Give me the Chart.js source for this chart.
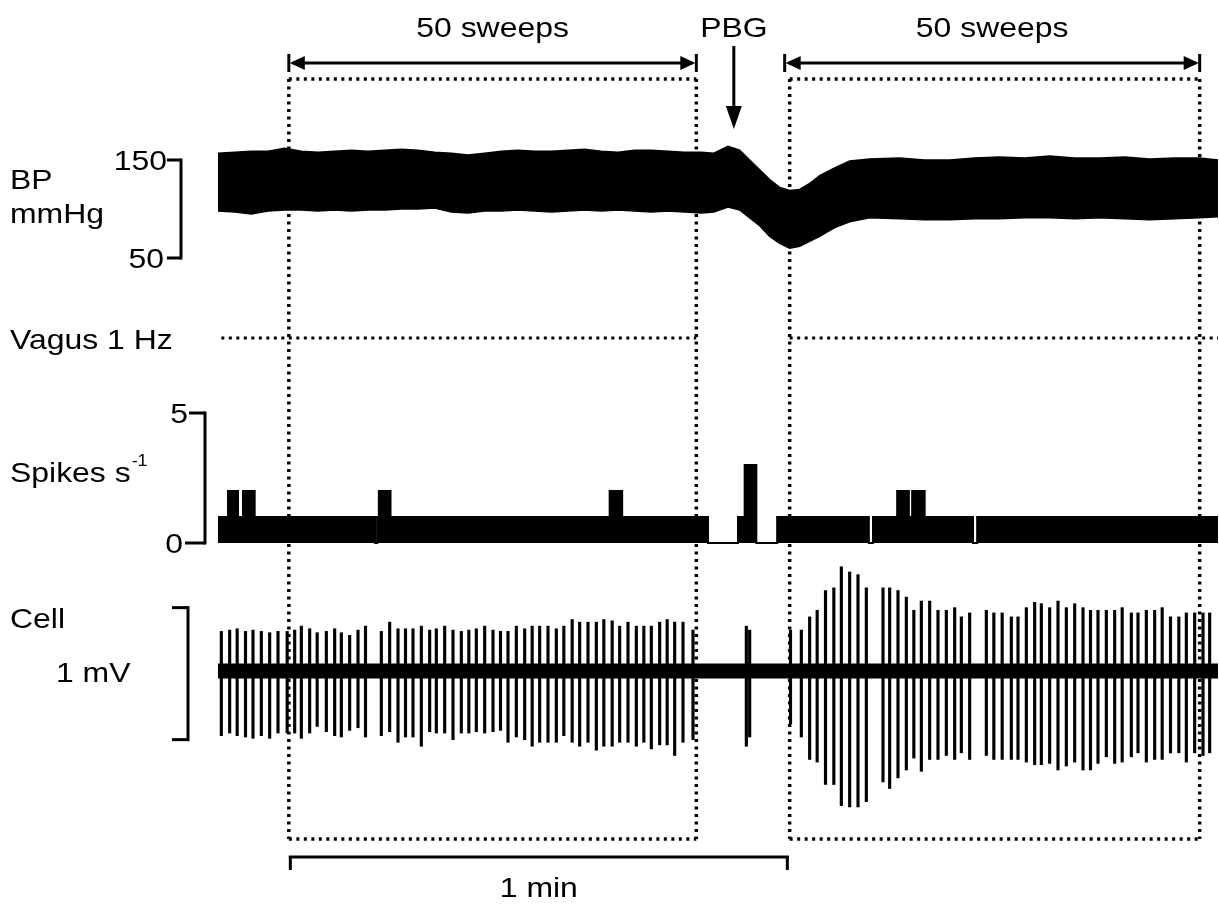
<!DOCTYPE html>
<html>
<head>
<meta charset="utf-8">
<script src="https://cdn.jsdelivr.net/npm/chart.js@4/dist/chart.umd.min.js"></script>
<style>
html, body { margin: 0; padding: 0; background: #fff; }
#wrap { width: 1219px; height: 905px; position: relative; }
</style>
</head>
<body>
<div id="wrap"><canvas id="trace"></canvas></div>
<script>
// time in seconds from left edge of the traces
var bpTime = [0, 2, 4, 6, 8, 10, 12, 14, 16, 18, 20, 22, 24, 26, 28, 30, 32, 34, 36, 38, 40, 42, 44, 46, 48, 50, 52, 54, 56, 58,
	59.5, 61.2, 62.6, 63.8, 65.0, 66.2, 67.4, 68.6, 69.8, 71.0, 72.2, 74.0, 75.8, 78.2, 81.8, 84.8, 87.8, 90.8, 93.8, 96.8,
	99.8, 102.8, 105.8, 108.8, 111.8, 114.8, 117.8, 120];
var bpSys = [157, 158, 159, 159, 162, 159, 158, 159, 160, 159, 160, 161, 160, 158, 157, 155, 157, 159, 160, 159, 159, 160, 161, 159, 158, 160, 160, 159, 158, 158,
	157, 164, 160, 150, 140, 130, 122, 119, 120, 126, 134, 142, 149, 151, 152, 150, 150, 152, 153, 152,
	154, 152, 152, 153, 151, 152, 152, 150];
var bpDia = [98, 97, 95, 98, 99, 99, 98, 99, 98, 99, 99, 100, 100, 101, 97, 96, 98, 98, 99, 98, 97, 98, 99, 98, 99, 98, 97, 98, 97, 96,
	97, 102, 99, 91, 83, 72, 65, 60, 62, 67, 72, 81, 87, 91, 90, 89, 89, 90, 90, 91,
	91, 90, 91, 90, 89, 90, 91, 92];

// spike rate histogram (value holds until next time)
var rateTime = [0, 1.2, 2.4, 3.0, 4.4, 18.85, 19.1, 19.3, 20.7, 47.0, 48.5, 58.8, 62.4, 63.2, 64.6, 67.1, 78.1, 78.6, 81.5, 82.9, 83.3, 84.8, 90.6, 91.1, 120];
var rateVal = [1, 2, 1, 2, 1, 0, 1, 2, 1, 2, 1, 0, 1, 3, 0, 1, 0, 1, 2, 1, 2, 1, 0, 1, 1];

// cell recording: spike times, upward and downward deflection (mV)
var cellTime = [0.4, 1.4, 2.3, 3.3, 4.2, 5.2, 6.2, 7.2, 8.3, 9.2, 10.0, 11.0, 11.9, 13.0, 14.0, 14.8, 15.8, 16.8, 17.7,
	19.6, 20.6, 21.6, 22.5, 23.4, 24.4, 25.4, 26.2, 27.2, 28.2, 29.2, 30.1, 31.0, 32.0,
	33.0, 33.9, 34.8, 35.8, 36.8, 37.7, 38.6, 39.6, 40.6, 41.5, 42.5, 43.4, 44.4, 45.4, 46.3, 47.3, 48.2, 49.2, 50.2, 51.1, 52.0, 53.0, 53.9, 54.8, 55.8, 57.0,
	63.4, 63.8,
	68.7, 70.0, 71.0, 71.9, 72.9, 73.9, 74.8, 75.8, 76.8, 77.8, 79.8, 80.6, 81.6, 82.6, 83.5, 84.4, 85.4, 86.4, 87.4, 88.4,
	89.2, 90.2, 92.2, 93.1, 94.1, 95.2, 96.0, 97.0, 98.0, 98.8, 99.8, 100.8, 101.8, 102.8, 103.8, 104.7, 105.6, 106.6, 107.6, 108.5,
	109.6, 110.4, 111.4, 112.4, 113.3, 114.3, 115.3, 116.2, 117.2, 118.2, 119.0];
var cellUp = [.30, .31, .32, .30, .31, .30, .29, .30, .30, .31, .34, .32, .29, .30, .32, .29, .27, .31, .34,
	.30, .37, .32, .32, .32, .34, .31, .32, .34, .31, .30, .31, .32, .34,
	.31, .30, .30, .34, .32, .34, .34, .34, .32, .34, .39, .37, .37, .37, .39, .38, .34, .37, .34, .34, .34, .37, .39, .37, .37, .31,
	.34, .31,
	.31, .31, .41, .46, .61, .63, .79, .75, .73, .63, .63, .63, .61, .56, .46, .53, .53, .46, .46, .48,
	.41, .44, .46, .44, .44, .41, .41, .48, .52, .51, .48, .53, .48, .51, .48, .46, .46, .46, .46, .48,
	.44, .44, .46, .46, .48, .41, .41, .44, .44, .44, .44];
var cellDown = [.49, .47, .49, .50, .51, .49, .51, .47, .47, .47, .51, .47, .42, .46, .49, .50, .45, .43, .50,
	.49, .46, .54, .50, .50, .57, .46, .47, .47, .52, .47, .47, .46, .47,
	.46, .45, .54, .50, .52, .57, .54, .54, .54, .49, .54, .57, .54, .60, .57, .57, .54, .54, .57, .54, .59, .56, .56, .64, .54, .52,
	.57, .50,
	.40, .50, .67, .69, .86, .86, 1.02, 1.03, 1.03, .99, .84, .89, .81, .75, .66, .76, .67, .67, .64, .67,
	.62, .67, .64, .67, .67, .67, .67, .69, .71, .71, .70, .75, .72, .69, .75, .75, .70, .65, .70, .69,
	.65, .62, .69, .67, .67, .62, .62, .69, .62, .64, .62];
var cellBaseTime = [0, 120];
var cellBaseVal = [0, 0];

// protocol marks
var sweepStart = [8.5, 68.6];
var sweepEnd = [57.4, 117.8];
var sweepArrowStart = [8.5, 68.0];
var vagusStart = [0.4, 68.6];
var vagusEnd = [57.4, 120];
var pbgTime = 61.9;
var minBar = [8.5, 68.5];

var H = 905;
var FONT = 28.5;
// value at a given pixel row -> axis min/max over the full canvas height
function span(v1, p1, v2, p2) {
	var k = (p2 - p1) / (v1 - v2);
	return { min: v1 - (H - p1) / k, max: v1 + p1 / k };
}
var bpAxis = span(150, 160, 50, 258);
var spAxis = span(5, 413, 0, 543);
var cellAxis = span(0, 671, 1, 539);

function pts(xs, ys) {
	return xs.map(function (t, i) { return { x: t, y: ys[i] }; });
}

function label(ctx, s, px, py, align, size) {
	ctx.save();
	ctx.font = (size || FONT) + 'px "Liberation Sans", Arial, sans-serif';
	ctx.fillStyle = '#000';
	ctx.textAlign = align || 'left';
	ctx.textBaseline = 'alphabetic';
	ctx.translate(px, py);
	ctx.scale(1.12, 1);
	ctx.fillText(s, 0, 0);
	ctx.restore();
}

function seg(ctx, x1, y1, x2, y2) {
	ctx.beginPath();
	ctx.moveTo(x1, y1);
	ctx.lineTo(x2, y2);
	ctx.stroke();
}

function tri(ctx, a, b, c) {
	ctx.beginPath();
	ctx.moveTo(a[0], a[1]);
	ctx.lineTo(b[0], b[1]);
	ctx.lineTo(c[0], c[1]);
	ctx.closePath();
	ctx.fill();
}

var overlay = {
	id: 'overlay',
	afterDatasetsDraw: function (chart) {
		var ctx = chart.ctx;
		var sx = chart.scales.x, yb = chart.scales.yBP, ys = chart.scales.ySp, yc = chart.scales.yCell;
		ctx.save();
		ctx.strokeStyle = '#000';
		ctx.fillStyle = '#000';

		// dotted sweep boxes
		ctx.lineWidth = 3.5;
		ctx.setLineDash([3, 4.5]);
		for (var i = 0; i < sweepStart.length; i++) {
			var a = sx.getPixelForValue(sweepStart[i]), b = sx.getPixelForValue(sweepEnd[i]);
			seg(ctx, a, 79, b, 79);
			seg(ctx, a, 839, b, 839);
			seg(ctx, a, 79, a, 839);
			seg(ctx, b, 79, b, 839);
		}
		// vagal stimulation
		ctx.lineWidth = 3;
		for (i = 0; i < vagusStart.length; i++) {
			seg(ctx, sx.getPixelForValue(vagusStart[i]), 338, sx.getPixelForValue(vagusEnd[i]), 338);
		}
		ctx.setLineDash([]);

		// sweep arrows
		ctx.lineWidth = 3;
		for (i = 0; i < sweepStart.length; i++) {
			var l = sx.getPixelForValue(sweepArrowStart[i]), r = sx.getPixelForValue(sweepEnd[i]);
			seg(ctx, l + 4, 63, r - 4, 63);
			seg(ctx, l, 54, l, 72);
			seg(ctx, r, 54, r, 72);
			tri(ctx, [l + 1, 63], [l + 16, 56], [l + 16, 70]);
			tri(ctx, [r - 1, 63], [r - 16, 56], [r - 16, 70]);
			label(ctx, '50 sweeps', (l + r) / 2, 37, 'center');
		}
		// PBG injection
		var p = sx.getPixelForValue(pbgTime);
		seg(ctx, p, 46, p, 112);
		tri(ctx, [p, 129], [p - 8, 106], [p + 8, 106]);
		label(ctx, 'PBG', p, 37, 'center');

		// BP scale
		var b150 = yb.getPixelForValue(150), b50 = yb.getPixelForValue(50);
		seg(ctx, 181, b150 - 1.5, 181, b50 + 1.5);
		seg(ctx, 167, b150, 181, b150);
		seg(ctx, 167, b50, 181, b50);
		label(ctx, '150', 167, b150 + 10, 'right');
		label(ctx, '50', 164, b50 + 10, 'right');
		label(ctx, 'BP', 10, 189);
		label(ctx, 'mmHg', 10, 223);

		label(ctx, 'Vagus 1 Hz', 10, 349);

		// spike rate scale
		var s5 = ys.getPixelForValue(5), s0 = ys.getPixelForValue(0);
		seg(ctx, 205, s5 - 1.5, 205, s0 + 1.5);
		seg(ctx, 189, s5, 205, s5);
		seg(ctx, 185, s0, 205, s0);
		label(ctx, '5', 188, s5 + 10, 'right');
		label(ctx, '0', 183, s0 + 10, 'right');
		label(ctx, 'Spikes s', 10, 482);
		ctx.font = FONT + 'px "Liberation Sans", Arial, sans-serif';
		var w = ctx.measureText('Spikes s').width * 1.12;
		label(ctx, '-1', 10 + w + 1, 466, 'left', 16);

		// cell scale: 1 mV
		var c1 = yc.getPixelForValue(0.48), c2 = yc.getPixelForValue(-0.52);
		seg(ctx, 188, c1 - 1.5, 188, c2 + 1.5);
		seg(ctx, 172, c1, 188, c1);
		seg(ctx, 172, c2, 188, c2);
		label(ctx, 'Cell', 10, 628);
		label(ctx, '1 mV', 56, 682);

		// time scale: 1 min
		var m1 = sx.getPixelForValue(minBar[0]), m2 = sx.getPixelForValue(minBar[1]);
		seg(ctx, m1, 857, m2, 857);
		seg(ctx, m1 + 1.5, 856, m1 + 1.5, 870);
		seg(ctx, m2 - 1.5, 856, m2 - 1.5, 870);
		label(ctx, '1 min', (m1 + m2) / 2, 897, 'center');
		ctx.restore();
	}
};

var chart = new Chart(document.getElementById('trace'), {
	type: 'line',
	data: {
		datasets: [{
			label: 'BP systolic',
			data: pts(bpTime, bpSys),
			yAxisID: 'yBP',
			borderColor: '#000',
			borderWidth: 1.5,
			pointRadius: 0,
			fill: false
		}, {
			label: 'BP diastolic',
			data: pts(bpTime, bpDia),
			yAxisID: 'yBP',
			borderColor: '#000',
			borderWidth: 1.5,
			pointRadius: 0,
			backgroundColor: '#000',
			fill: '-1'
		}, {
			label: 'Spikes s-1',
			data: pts(rateTime, rateVal),
			yAxisID: 'ySp',
			stepped: true,
			borderColor: '#000',
			borderWidth: 2,
			pointRadius: 0,
			backgroundColor: '#000',
			fill: 'origin'
		}, {
			label: 'Cell baseline',
			data: pts(cellBaseTime, cellBaseVal),
			yAxisID: 'yCell',
			borderColor: '#000',
			borderWidth: 15,
			pointRadius: 0,
			fill: false
		}, {
			type: 'bar',
			label: 'Cell spikes',
			data: cellTime.map(function (t, i) { return { x: t, y: [-cellDown[i], cellUp[i]] }; }),
			yAxisID: 'yCell',
			backgroundColor: '#000',
			barThickness: 2.5,
			borderWidth: 0
		}]
	},
	options: {
		responsive: true,
		maintainAspectRatio: false,
		devicePixelRatio: 1,
		animation: false,
		layout: { padding: { left: 218, right: 1, top: 0, bottom: 0 } },
		elements: { line: { tension: 0 } },
		plugins: { legend: { display: false }, tooltip: { enabled: false } },
		scales: {
			x: { type: 'linear', min: 0, max: 120, display: false, offset: false },
			yBP: { type: 'linear', min: bpAxis.min, max: bpAxis.max, display: false },
			ySp: { type: 'linear', min: spAxis.min, max: spAxis.max, display: false },
			yCell: { type: 'linear', min: cellAxis.min, max: cellAxis.max, display: false }
		}
	},
	plugins: [overlay]
});
</script>
</body>
</html>
